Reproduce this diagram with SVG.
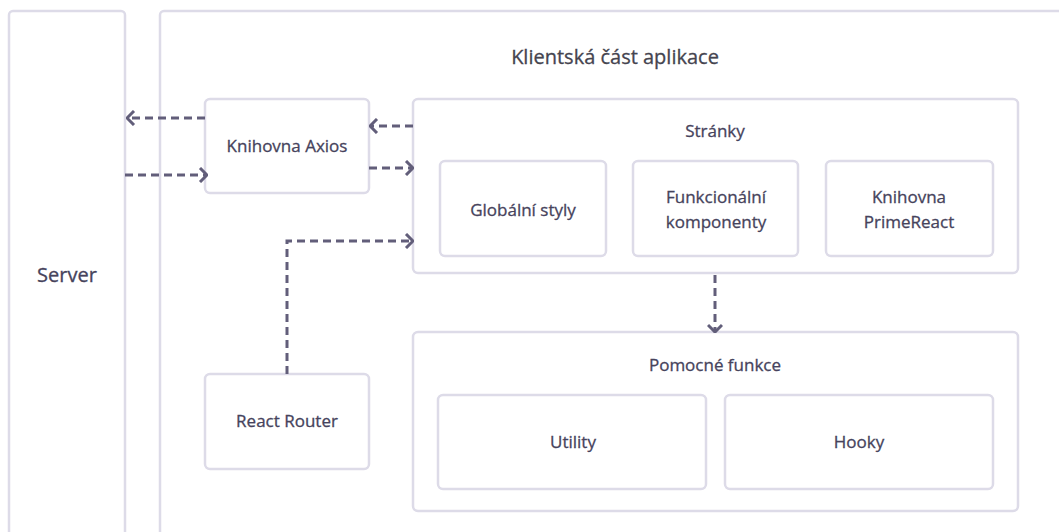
<svg xmlns="http://www.w3.org/2000/svg" width="1059" height="532" viewBox="0 0 1059 532">
<style>
.box{fill:#fff;stroke:#dddbe8;stroke-width:2.5}
.t{font-family:"Open Sans","Noto Sans",sans-serif;font-size:17px;font-weight:400;fill:#46435c;stroke:#46435c;stroke-width:0.3;text-anchor:middle}
.big{font-size:20px}
.title{fill:#45444f;stroke:#45444f}
.c{fill:none;stroke:#625e7a;stroke-width:3;stroke-dasharray:8 5}
</style>
<defs>
<marker id="ah" viewBox="0 0 10 16" refX="9" refY="8" markerWidth="10" markerHeight="16" markerUnits="userSpaceOnUse" orient="auto">
<path d="M2,1 L9,8 L2,15" fill="none" stroke="#625e7a" stroke-width="3"/>
</marker>
</defs>
<rect width="1059" height="532" fill="#fff"/>
<g id="server"><rect class="box" x="9" y="11" width="116" height="540" rx="4"/><text class="t big" x="67" y="282">Server</text></g>
<g id="client"><rect class="box" x="160" y="11" width="920" height="540" rx="4"/><text class="t big title" x="615" y="64">Klientská část aplikace</text></g>
<g id="axios"><rect class="box" x="205" y="99" width="164" height="94" rx="5"/><text class="t" x="287" y="152">Knihovna Axios</text></g>
<g id="stranky"><rect class="box" x="413" y="99" width="605" height="174" rx="5"/><text class="t" x="715" y="137">Stránky</text></g>
<g id="globalni"><rect class="box" x="440" y="161" width="166" height="95" rx="5"/><text class="t" x="523" y="216">Globální styly</text></g>
<g id="funkcionalni"><rect class="box" x="633" y="161" width="165" height="95" rx="5"/><text class="t" x="716" y="203">Funkcionální</text><text class="t" x="716" y="228">komponenty</text></g>
<g id="primereact"><rect class="box" x="826" y="161" width="167" height="95" rx="5"/><text class="t" x="909" y="203">Knihovna</text><text class="t" x="909" y="228">PrimeReact</text></g>
<g id="router"><rect class="box" x="205" y="374" width="164" height="95" rx="5"/><text class="t" x="287" y="427">React Router</text></g>
<g id="pomocne"><rect class="box" x="413" y="332" width="605" height="179" rx="5"/><text class="t" x="715" y="371">Pomocné funkce</text></g>
<g id="utility"><rect class="box" x="438" y="395" width="268" height="94" rx="5"/><text class="t" x="573" y="448">Utility</text></g>
<g id="hooky"><rect class="box" x="725" y="395" width="268" height="94" rx="5"/><text class="t" x="859" y="448">Hooky</text></g>
<g id="connectors">
<path class="c" d="M205,118 H127" marker-end="url(#ah)"/>
<path class="c" d="M125,175 H207" marker-end="url(#ah)"/>
<path class="c" d="M413,126 H370" marker-end="url(#ah)"/>
<path class="c" d="M369,168 H413" marker-end="url(#ah)"/>
<path class="c" d="M287,374 V241 H413" marker-end="url(#ah)"/>
<path class="c" d="M715,275 V332" marker-end="url(#ah)"/>
</g>
</svg>
